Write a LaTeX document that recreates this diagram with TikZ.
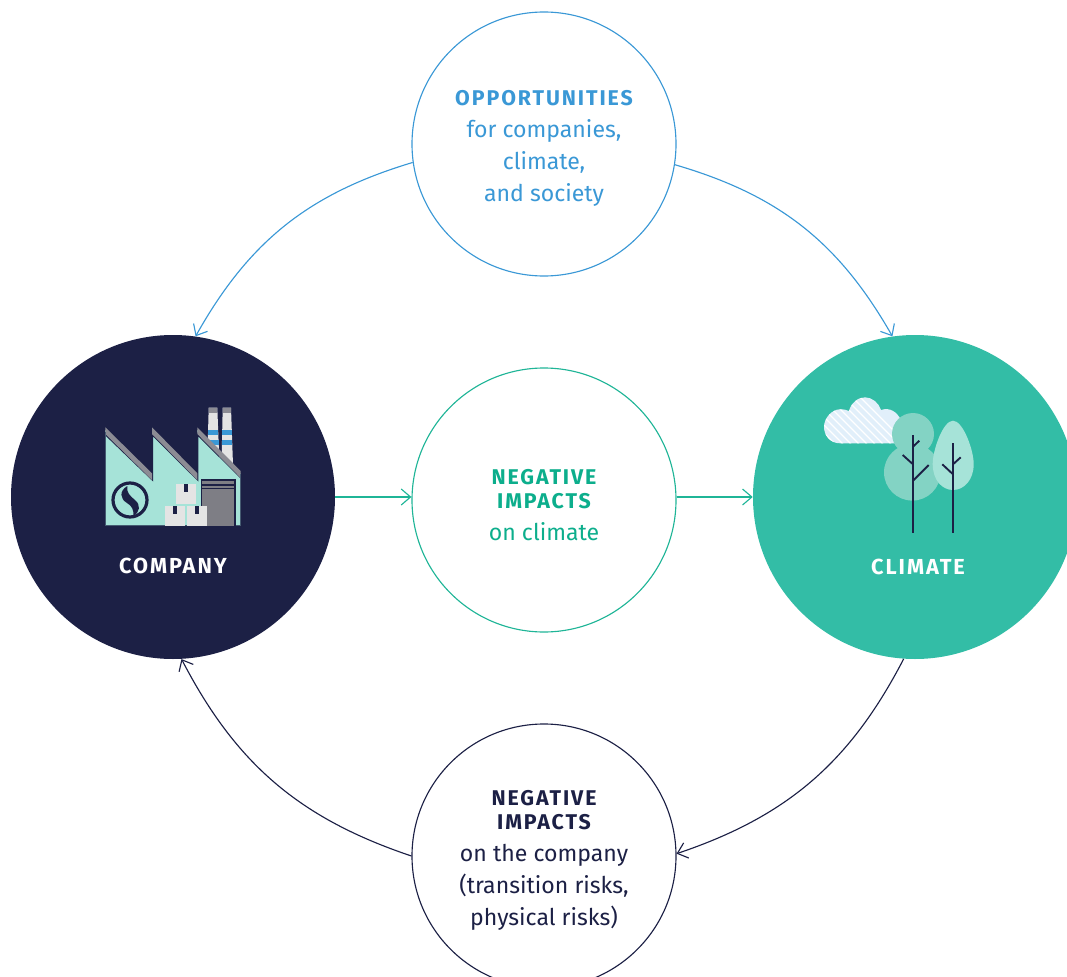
\documentclass[tikz,border=0pt]{standalone}
\usepackage{fontspec}
\setmainfont{Fira Sans}
\newfontfamily\capsfont[LetterSpace=9]{Fira Sans}
\usetikzlibrary{arrows.meta}

\definecolor{navy}{HTML}{1C2045}
\definecolor{teal}{HTML}{33BDA6}
\definecolor{greenline}{HTML}{1FB597}
\definecolor{greentext}{HTML}{0CAE8C}
\definecolor{blueline}{HTML}{3A98D6}
\definecolor{mint}{HTML}{A6E3D8}
\definecolor{leaf}{HTML}{83D3C4}
\definecolor{roofgray}{HTML}{8C8C94}
\definecolor{boxgray}{HTML}{E4E4E4}
\definecolor{cloudblue}{HTML}{E1EFFA}

\tikzset{
	ring/.style={circle,draw,fill=white,line width=0.85pt,minimum size=198pt,inner sep=0pt,align=center,
		font=\fontsize{17.3}{24}\selectfont},
	disc/.style={circle,minimum size=243pt,inner sep=0pt},
	flow/.style={line width=0.85pt,-{Straight Barb[length=7pt,width=12pt,line width=0.85pt]}},
	caption/.style={text=white,font=\fontsize{16.3}{18}\selectfont\capsfont\bfseries}
}

\begin{document}
\begin{tikzpicture}[x=0.75pt,y=-0.75pt]

\def\caps#1{{\fontsize{16}{24}\selectfont\capsfont\bfseries #1}}
\def\lift{\rule{0pt}{18.5pt}}

\def\factory{
	% chimneys
	\foreach \xa/\xb/\xc/\xd/\yb in {208.7/217.3/207.5/219/452, 222.7/231/221.5/233/465} {
		\fill[boxgray] (\xa,407.5)--(\xb,407.5)--(\xd,\yb)--(\xc,\yb)--cycle;
		\fill[roofgray] (\xa,407.5) rectangle (\xb,413);
		\fill[blueline] (\xa-0.5,430) rectangle (\xb+1,435);
		\fill[blueline] (\xa-0.7,440) rectangle (\xb+1.3,445);
	}
	% building
	\fill[mint] (105.3,525.7)--(105.3,430)--(152,476)--(152,430)--(197.3,476)--(197.3,430)--(240.7,474)--(240.7,525.7)--cycle;
	\draw[navy,line width=1.6pt] (105.3,434)--(152,479)--(152,434)--(197.3,479)--(197.3,434)--(240.7,477);
	\fill[roofgray] (105.3,427.3)--(152,473.3)--(152,480)--(105.3,434)--cycle;
	\fill[roofgray] (152,427.3)--(197.3,473.3)--(197.3,480)--(152,434)--cycle;
	\fill[roofgray] (197.3,427.3)--(240.7,471)--(240.7,478)--(197.3,434)--cycle;
	\draw[navy!70!mint,line width=0.6pt] (105.3,525.7)--(105.3,432) (105.3,525.7)--(240.7,525.7)--(240.7,474);
	% door
	\fill[roofgray!90!black] (201.5,480) rectangle (235,525.7);
	\draw[navy,line width=1.1pt] (201.5,525.7)--(201.5,480)--(235,480)--(235,525.7);
	\draw[navy,line width=1pt] (201.5,485)--(235,485) (201.5,488.5)--(235,488.5);
	% boxes
	\foreach \bx/\by in {176/484, 165/506, 187/506} {
		\fill[boxgray] (\bx,\by) rectangle (\bx+20,\by+19.8);
		\fill[navy] (\bx+8,\by) rectangle (\bx+12,\by+7.5);
	}
	% logo
	\draw[navy,line width=2.4pt] (130,500) circle (17);
	\fill[navy] (127.3,486) .. controls (119,491) and (120,499) .. (127,503) .. controls (132,506) and (134,510) .. (133.3,516)
		.. controls (140,512) and (141,505) .. (135,500) .. controls (130,496) and (126,492) .. (127.3,486) -- cycle;
}

\def\trees{
	% cloud
	\begin{scope}
		\clip (840,443.3) .. controls (830,443.3) and (824,435) .. (824,427)
			.. controls (824,418) and (832,409.3) .. (840,409.3)
			.. controls (844,409.3) and (847,410) .. (849,411)
			.. controls (851,403) and (858,397.3) .. (865,397.3)
			.. controls (872,397.3) and (879,403) .. (881,410)
			.. controls (890,407) and (897,412) .. (901,420)
			-- (905,443.3) -- cycle;
		\fill[cloudblue] (820,395) rectangle (910,445);
		\foreach \k in {0,1,...,11} {
			\draw[white,line width=0.9pt] (\k*8+770,395)--(\k*8+820,445);
		}
	\end{scope}
	% left tree
	\fill[leaf] (913,434) circle (21);
	\fill[leaf] (912.3,472.3) circle (28.3);
	\draw[navy,line width=1.4pt] (913,435)--(913,532.7);
	\draw[navy,line width=1.4pt] (913,446.7)--(919.3,440.7);
	\draw[navy,line width=1.4pt] (913,464.3)--(902.7,455);
	\draw[navy,line width=1.4pt] (913,480.7)--(928.7,465);
	% right tree
	\fill[mint] (953,420.7) .. controls (963,420.7) and (973.7,450) .. (973.7,464)
		.. controls (973.7,480) and (964,490) .. (953,490)
		.. controls (942,490) and (932.7,480) .. (932.7,464)
		.. controls (932.7,450) and (943,420.7) .. (953,420.7) -- cycle;
	\draw[navy,line width=1.4pt] (953,443.3)--(953,532.7);
	\draw[navy,line width=1.4pt] (953,464.3)--(960.7,457.3);
	\draw[navy,line width=1.4pt] (953,474.3)--(942.3,464.3);
}

\useasboundingbox (0,0) rectangle (1067,977);
\clip (0,0) rectangle (1067,977);

\node[disc,fill=navy] (company) at (173,497) {};
\node[disc,fill=teal] (climate) at (915,497) {};

\node[ring,draw=blueline,text=blueline] (chances) at (544,144)
	{\lift\caps{OPPORTUNITIES}\\for companies,\\climate,\\and society};
\node[ring,draw=greenline,text=greentext] (impactclimate) at (544,500)
	{\lift\caps{NEGATIVE}\\[-6pt]\caps{IMPACTS}\\on climate};
\node[ring,draw=navy,text=navy] (impactcompany) at (544,856)
	{\lift\caps{NEGATIVE}\\[-6pt]\caps{IMPACTS}\\on the company\\(transition risks,\\physical risks)};

\factory
\trees

\node[caption] (companylabel) at (173,566) {COMPANY};
\node[caption] (climatelabel) at (918,567) {CLIMATE};

\draw[flow,blueline] (chances.188.7) to[bend right=22] (company.82);
\draw[flow,blueline] (chances.351.3) to[bend left=22] (climate.98);
\draw[flow,greenline] (company.east) -- (company.east -| impactclimate.west);
\draw[flow,greenline] (impactclimate.east |- climate.west) -- (climate.west);
\draw[flow,navy] (climate.266.5) to[bend left=22] (impactcompany.1);
\draw[flow,navy] (impactcompany.180) to[bend left=22] (company.273);

\end{tikzpicture}
\end{document}
